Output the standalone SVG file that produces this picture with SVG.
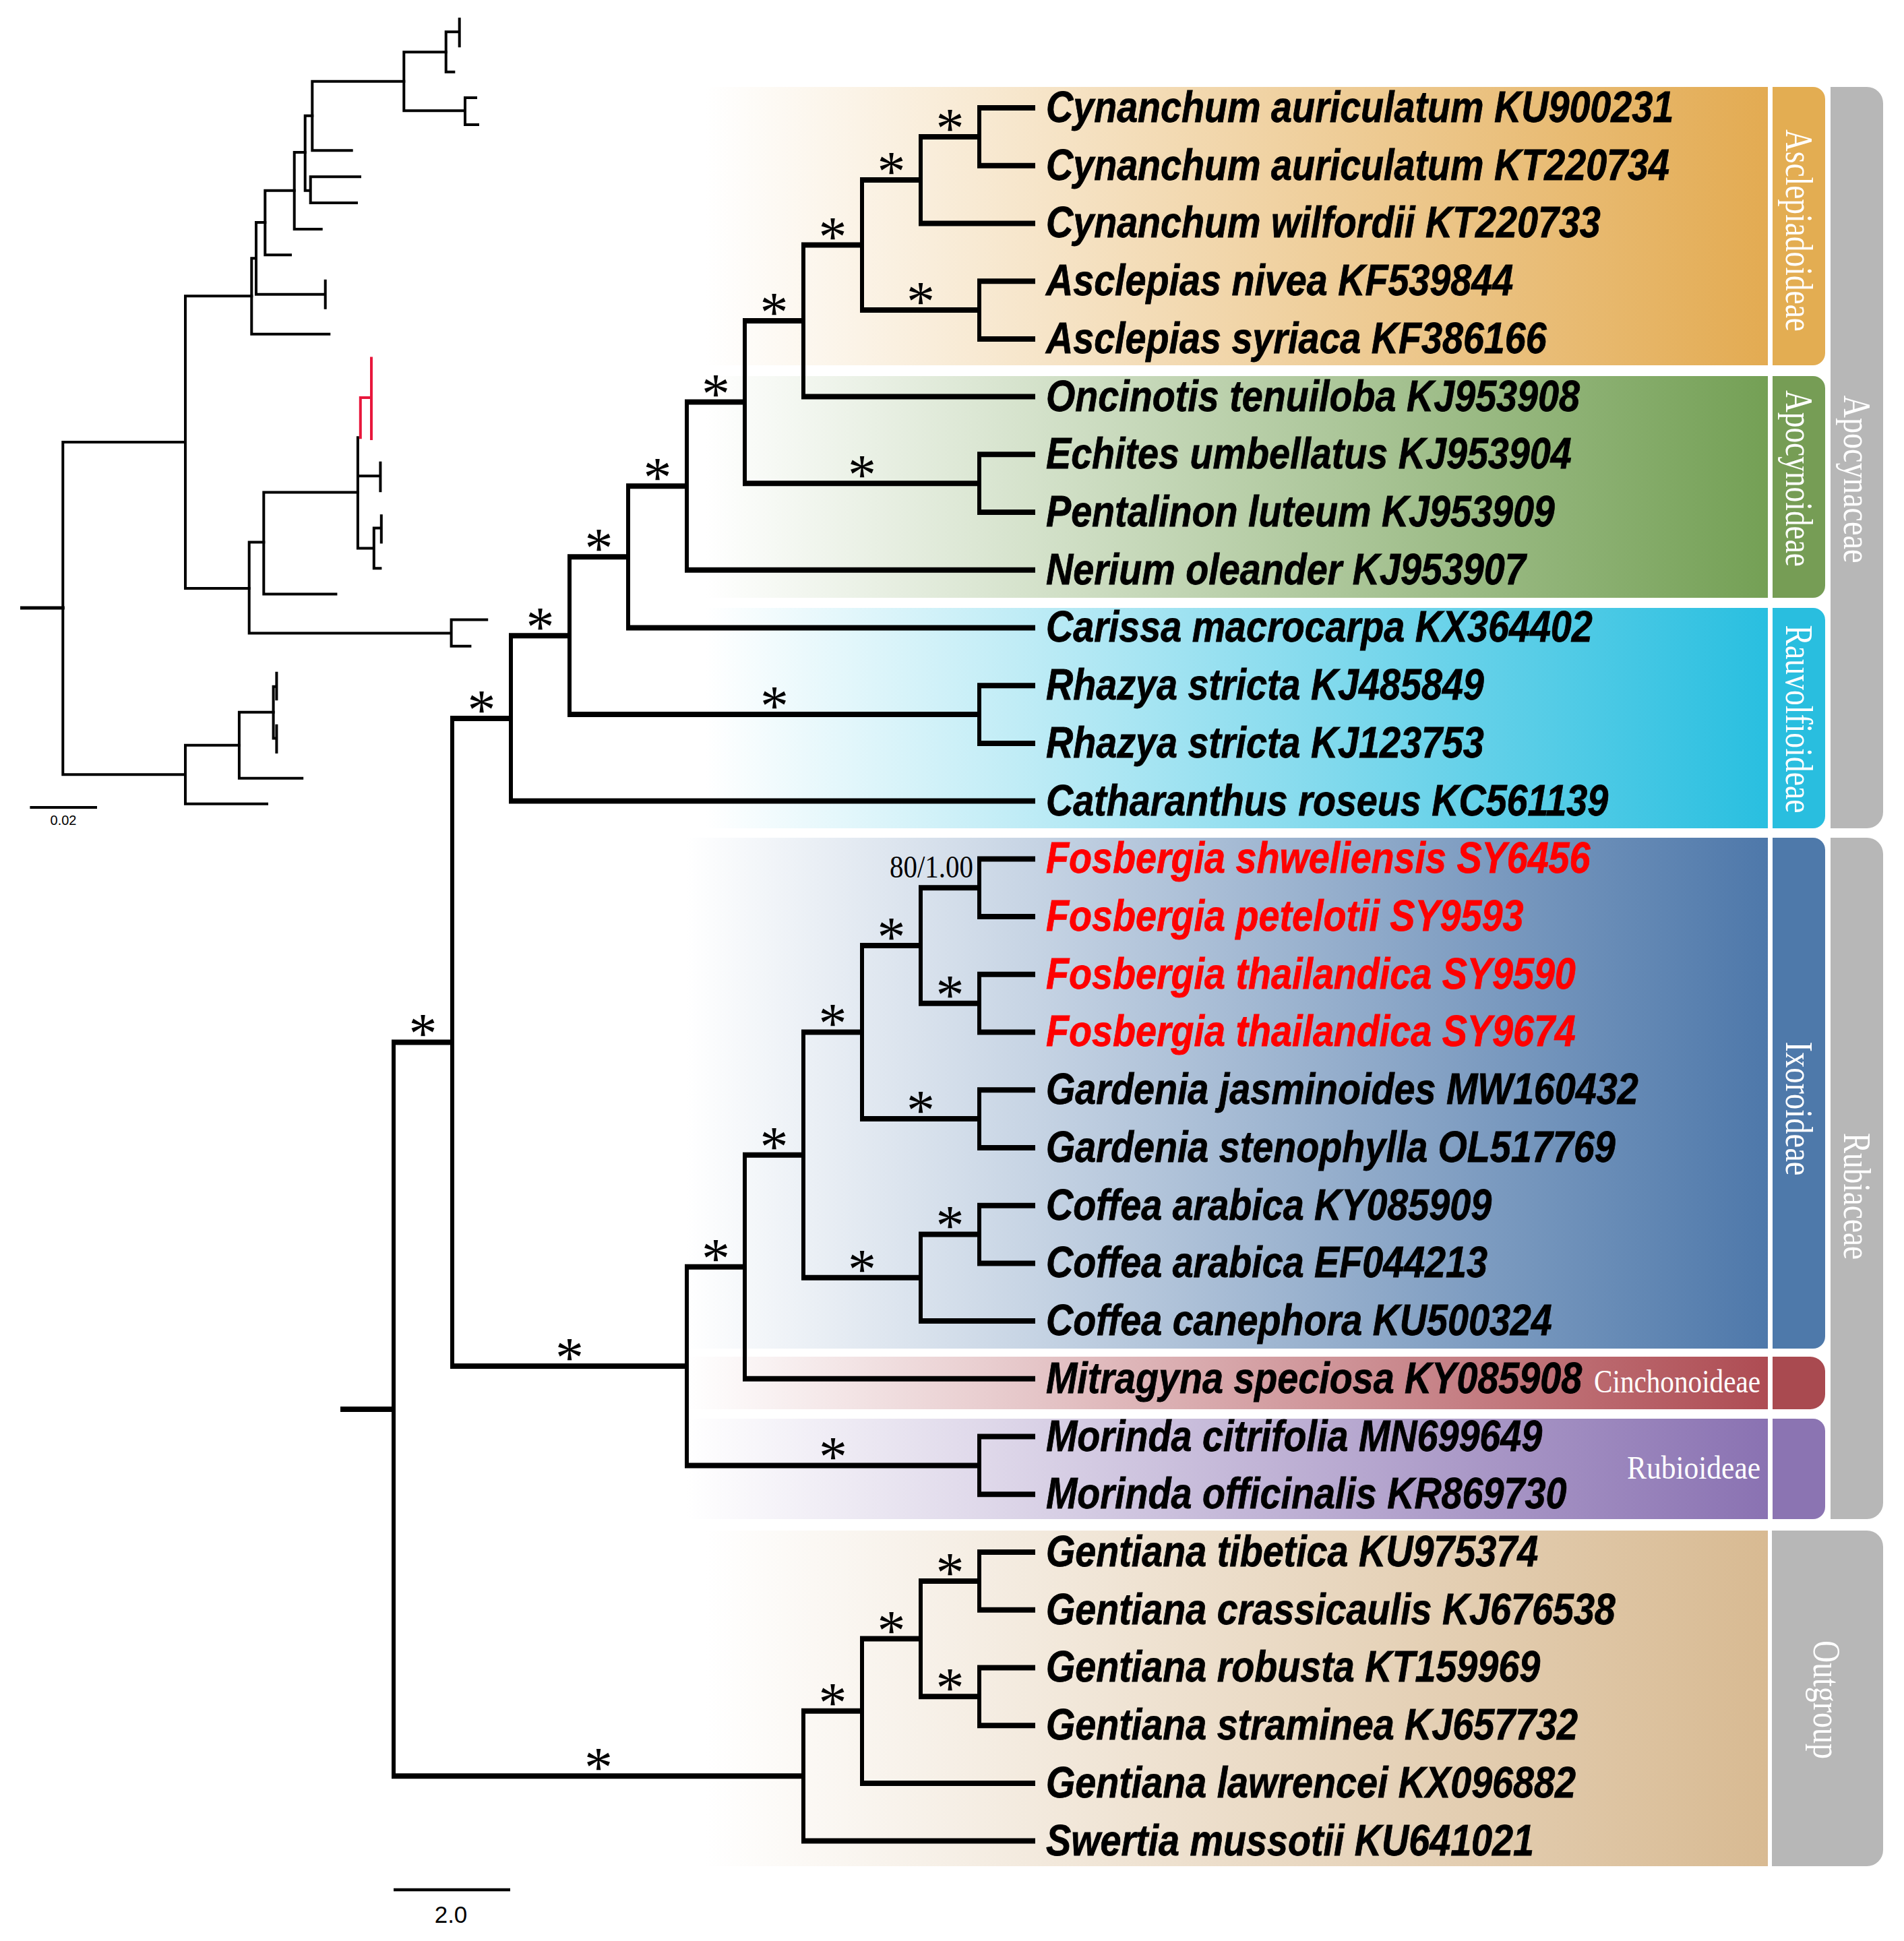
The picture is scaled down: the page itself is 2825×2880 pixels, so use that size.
<svg xmlns="http://www.w3.org/2000/svg" width="2825" height="2880" viewBox="0 0 2825 2880">
<style>
.hz{fill:none;stroke:#000;stroke-width:8;stroke-linecap:butt}
.vt{fill:none;stroke:#000;stroke-width:6;stroke-linecap:square}
.in{fill:none;stroke:#000;stroke-width:4;stroke-linecap:square}
.inr{fill:none;stroke:#E8173C;stroke-width:4;stroke-linecap:square}
.tx{font-family:"Liberation Sans",Arial,sans-serif;font-weight:bold;font-style:italic;font-size:64px;fill:#000;stroke:#000;stroke-width:0.8}
.red{fill:#FF0000;stroke:#FF0000}
.ast{font-family:"Liberation Serif","Times New Roman",serif;font-size:84px;fill:#000;text-anchor:middle}
.lab{font-family:"Liberation Serif","Times New Roman",serif;font-size:58px;fill:#fff;text-anchor:middle}
.hlab{font-family:"Liberation Serif","Times New Roman",serif;font-size:48px;fill:#fff;text-anchor:end}
.sc{font-family:"Liberation Sans",Arial,sans-serif;fill:#000;text-anchor:middle}
</style>
<defs>
<linearGradient id="gAsc" x1="0" x2="1" y1="0" y2="0"><stop offset="0" stop-color="#fff"/><stop offset="1" stop-color="#E3AB52"/></linearGradient>
<linearGradient id="gApo" x1="0" x2="1" y1="0" y2="0"><stop offset="0" stop-color="#fff"/><stop offset="1" stop-color="#74A055"/></linearGradient>
<linearGradient id="gRau" x1="0" x2="1" y1="0" y2="0"><stop offset="0" stop-color="#fff"/><stop offset="1" stop-color="#29BFE0"/></linearGradient>
<linearGradient id="gIxo" x1="0" x2="1" y1="0" y2="0"><stop offset="0" stop-color="#fff"/><stop offset="1" stop-color="#4E78AA"/></linearGradient>
<linearGradient id="gCin" x1="0" x2="1" y1="0" y2="0"><stop offset="0" stop-color="#fff"/><stop offset="1" stop-color="#AE4C53"/></linearGradient>
<linearGradient id="gRub" x1="0" x2="1" y1="0" y2="0"><stop offset="0" stop-color="#fff"/><stop offset="1" stop-color="#8A72B2"/></linearGradient>
<linearGradient id="gOut" x1="0" x2="1" y1="0" y2="0"><stop offset="0" stop-color="#fff"/><stop offset="1" stop-color="#D8BA92"/></linearGradient>
</defs>
<rect width="2825" height="2880" fill="#fff"/>

<g id="bands">
<rect x="1047" y="129" width="1576" height="413" fill="url(#gAsc)"/>
<rect x="1047" y="558" width="1576" height="329" fill="url(#gApo)"/>
<rect x="1047" y="902" width="1576" height="327" fill="url(#gRau)"/>
<rect x="1019" y="1243" width="1604" height="758" fill="url(#gIxo)"/>
<rect x="1019" y="2013" width="1604" height="78" fill="url(#gCin)"/>
<rect x="1019" y="2105" width="1604" height="149" fill="url(#gRub)"/>
<rect x="1047" y="2271" width="1576" height="498" fill="url(#gOut)"/>
</g>

<g id="label-boxes">
<path d="M2630 129H2690A18 18 0 0 1 2708 147V524A18 18 0 0 1 2690 542H2630Z" fill="#E3AD52"/>
<path d="M2630 558H2690A18 18 0 0 1 2708 576V869A18 18 0 0 1 2690 887H2630Z" fill="#769D55"/>
<path d="M2630 902H2690A18 18 0 0 1 2708 920V1211A18 18 0 0 1 2690 1229H2630Z" fill="#29BEDF"/>
<path d="M2630 1243H2690A18 18 0 0 1 2708 1261V1983A18 18 0 0 1 2690 2001H2630Z" fill="#4E79AA"/>
<path d="M2630 2013H2686A22 22 0 0 1 2708 2035V2069A22 22 0 0 1 2686 2091H2630Z" fill="#A94A50"/>
<path d="M2630 2105H2690A18 18 0 0 1 2708 2123V2236A18 18 0 0 1 2690 2254H2630Z" fill="#8B74B2"/>
<path d="M2716 129H2770A24 24 0 0 1 2794 153V1205A24 24 0 0 1 2770 1229H2716Z" fill="#B7B7B7"/>
<path d="M2716 1243H2770A24 24 0 0 1 2794 1267V2230A24 24 0 0 1 2770 2254H2716Z" fill="#B7B7B7"/>
<path d="M2629 2271H2770A24 24 0 0 1 2794 2295V2745A24 24 0 0 1 2770 2769H2629Z" fill="#B7B7B7"/>
<text class="lab" transform="translate(2650 342) rotate(90)" textLength="300" lengthAdjust="spacingAndGlyphs">Asclepiadoideae</text>
<text class="lab" transform="translate(2650 710) rotate(90)" textLength="262" lengthAdjust="spacingAndGlyphs">Apocynoideae</text>
<text class="lab" transform="translate(2650 1067) rotate(90)" textLength="279" lengthAdjust="spacingAndGlyphs">Rauvolfioideae</text>
<text class="lab" transform="translate(2650 1645) rotate(90)" textLength="199" lengthAdjust="spacingAndGlyphs">Ixoroideae</text>
<text class="lab" transform="translate(2736 711) rotate(90)" textLength="249" lengthAdjust="spacingAndGlyphs">Apocynaceae</text>
<text class="lab" transform="translate(2736 1775) rotate(90)" textLength="188" lengthAdjust="spacingAndGlyphs">Rubiaceae</text>
<text class="lab" transform="translate(2691 2522) rotate(90)" textLength="176" lengthAdjust="spacingAndGlyphs">Outgroup</text>
<text class="hlab" x="2612" y="2066" textLength="247" lengthAdjust="spacingAndGlyphs">Cinchonoideae</text>
<text class="hlab" x="2612" y="2194" textLength="198" lengthAdjust="spacingAndGlyphs">Rubioideae</text>
</g>

<g id="inset-tree">
<path class="in" d="M32.5 902H93.3" style="stroke-width:5"/>
<path class="in" d="M93.3 656V1149.3M93.3 656H275M93.3 1149.3H275"/>
<path class="in" d="M275 439.3V873.1M275 439.3H373.3M275 873.1H369.7"/>
<path class="in" d="M373.3 383.3V495.7H488.3M373.3 383.3H380"/>
<path class="in" d="M380 330V436.7H482.7M482.7 416.7V456.7M380 330H393.3"/>
<path class="in" d="M393.3 282.7V378.3H431M393.3 282.7H436.7"/>
<path class="in" d="M436.7 226V340H476.7M436.7 226H452.7"/>
<path class="in" d="M452.7 171.7V282.7H460.7M460.7 262.3V301M460.7 262.3H534M460.7 301H529M452.7 171.7H463.3"/>
<path class="in" d="M463.3 120.7V223.3H521.7M463.3 120.7H599.3"/>
<path class="in" d="M599.3 77.3V164.3H690M690 145V185M690 145H706M690 185H709M599.3 77.3H661.7"/>
<path class="in" d="M661.7 47.3V106.7H673.3M661.7 47.3H681.7M681.7 28.3V68.3"/>
<path class="in" d="M369.7 804.5V939.5H669.6M369.7 804.5H391.3M669.6 919.6V958.7M669.6 919.6H722.2M669.6 958.7H697.4"/>
<path class="in" d="M391.3 730.5V881.4H498.4M391.3 730.5H530.9"/>
<path class="in" d="M530.9 649.3V813.4H554.8M530.9 706.3H564.4M564.4 686.7V728.2M554.8 783.6V843.3H564.4M554.8 783.6H565.8M565.8 765.3V804.5"/>
<path class="inr" d="M534.8 649.3V590H551M551 531.5V651"/>
<path class="in" d="M275 1105.7V1192.8H396M275 1105.7H354.9"/>
<path class="in" d="M354.9 1056.8V1154.7H448.2M354.9 1056.8H405.6"/>
<path class="in" d="M405.6 1018.7V1095.4M405.6 1018.7H410.4M405.6 1095.4H410.4M410.4 998.8V1037.3M410.4 1076.7V1116.1"/>
<path class="in" d="M46.4 1198H142"/>
<text class="sc" x="94" y="1224" font-size="20">0.02</text>
</g>

<g id="connectors">
<path class="hz" d="M505 2091H587 M581 1546.5H674 M581 2635.2H1195 M668 1065.9H761 M668 2027.1H1022 M755 943.2H848 M755 1188.6H1536 M842 826.3H935 M842 1060.1H1456 M929 721.2H1022 M929 931.5H1536 M1016 596.6H1108 M1016 845.8H1536 M1102 476.1H1195 M1102 717.2H1456 M1189 363.6H1282 M1189 588.6H1536 M1276 267.1H1369 M1276 460H1456 M1363 202.9H1456 M1363 331.4H1536"/>
<path class="hz" d="M1016 1879.7H1108 M1016 2174.4H1456 M1102 1713.7H1195 M1102 2045.8H1536 M1189 1531.5H1282 M1189 1895.8H1369 M1363 1831.5H1456 M1363 1960.1H1536 M1276 1402.9H1369 M1276 1660.1H1456 M1363 1317.2H1456 M1363 1488.7H1456"/>
<path class="hz" d="M1189 2538.8H1282 M1189 2731.6H1536 M1276 2431.6H1369 M1276 2645.9H1536 M1363 2345.9H1456 M1363 2517.3H1456"/>
<path class="hz" d="M1450 160H1536 M1450 245.7H1536 M1450 417.2H1536 M1450 502.9H1536 M1450 674.3H1536 M1450 760H1536 M1450 1017.2H1536 M1450 1102.9H1536 M1450 1274.4H1536 M1450 1360.1H1536 M1450 1445.8H1536 M1450 1531.5H1536 M1450 1617.2H1536 M1450 1703H1536 M1450 1788.7H1536 M1450 1874.4H1536 M1450 2131.6H1536 M1450 2217.3H1536 M1450 2303H1536 M1450 2388.7H1536 M1450 2474.4H1536 M1450 2560.2H1536"/>
<path class="vt" d="M584 1546.5V2635.2 M671 1065.9V2027.1 M758 943.2V1188.6 M845 826.3V1060.1 M932 721.2V931.5 M1019 596.6V845.8 M1105 476.1V717.2 M1192 363.6V588.6 M1279 267.1V460 M1366 202.9V331.4 M1453 160V245.7 M1453 417.2V502.9 M1453 674.3V760 M1453 1017.2V1102.9"/>
<path class="vt" d="M1019 1879.7V2174.4 M1105 1713.7V2045.8 M1192 1531.5V1895.8 M1366 1831.5V1960.1 M1279 1402.9V1660.1 M1366 1317.2V1488.7 M1453 1274.4V1360.1 M1453 1445.8V1531.5 M1453 1617.2V1703 M1453 1788.7V1874.4 M1453 2131.6V2217.3"/>
<path class="vt" d="M1192 2538.8V2731.6 M1279 2431.6V2645.9 M1366 2345.9V2517.3 M1453 2303V2388.7 M1453 2474.4V2560.2"/>
<path class="hz" d="M584 2804H757" style="stroke-width:4.5"/>
<text class="sc" x="669" y="2853" font-size="35">2.0</text>
</g>

<g id="support">
<text class="ast" x="627.5" y="1562">*</text>
<text class="ast" x="888" y="2651">*</text>
<text class="ast" x="714.5" y="1082">*</text>
<text class="ast" x="845" y="2043">*</text>
<text class="ast" x="801.5" y="959">*</text>
<text class="ast" x="888.5" y="842">*</text>
<text class="ast" x="1149" y="1076">*</text>
<text class="ast" x="975.5" y="737">*</text>
<text class="ast" x="1062" y="613">*</text>
<text class="ast" x="1148.5" y="492">*</text>
<text class="ast" x="1279" y="733">*</text>
<text class="ast" x="1235.5" y="380">*</text>
<text class="ast" x="1322.5" y="283">*</text>
<text class="ast" x="1366" y="476">*</text>
<text class="ast" x="1409.5" y="219">*</text>
<text class="ast" x="1062" y="1896">*</text>
<text class="ast" x="1236" y="2190">*</text>
<text class="ast" x="1148.5" y="1730">*</text>
<text class="ast" x="1235.5" y="1547">*</text>
<text class="ast" x="1279" y="1912">*</text>
<text class="ast" x="1409.5" y="1847">*</text>
<text class="ast" x="1322.5" y="1419">*</text>
<text class="ast" x="1366" y="1676">*</text>
<text class="ast" x="1409.5" y="1505">*</text>
<text class="ast" x="1235.5" y="2555">*</text>
<text class="ast" x="1322.5" y="2448">*</text>
<text class="ast" x="1409.5" y="2362">*</text>
<text class="ast" x="1409.5" y="2533">*</text>
<text x="1444" y="1302" font-family="Liberation Serif, Times New Roman, serif" font-size="46" text-anchor="end" textLength="124" lengthAdjust="spacingAndGlyphs">80/1.00</text>
</g>

<g id="taxa" transform="translate(1552 0) scale(0.87 1)">
<text class="tx" x="0" y="181">Cynanchum auriculatum KU900231</text>
<text class="tx" x="0" y="266.7">Cynanchum auriculatum KT220734</text>
<text class="tx" x="0" y="352.4">Cynanchum wilfordii KT220733</text>
<text class="tx" x="0" y="438.2">Asclepias nivea KF539844</text>
<text class="tx" x="0" y="523.9">Asclepias syriaca KF386166</text>
<text class="tx" x="0" y="609.6">Oncinotis tenuiloba KJ953908</text>
<text class="tx" x="0" y="695.3">Echites umbellatus KJ953904</text>
<text class="tx" x="0" y="781">Pentalinon luteum KJ953909</text>
<text class="tx" x="0" y="866.8">Nerium oleander KJ953907</text>
<text class="tx" x="0" y="952.5">Carissa macrocarpa KX364402</text>
<text class="tx" x="0" y="1038.2">Rhazya stricta KJ485849</text>
<text class="tx" x="0" y="1123.9">Rhazya stricta KJ123753</text>
<text class="tx" x="0" y="1209.6">Catharanthus roseus KC561139</text>
<text class="tx red" x="0" y="1295.4">Fosbergia shweliensis SY6456</text>
<text class="tx red" x="0" y="1381.1">Fosbergia petelotii SY9593</text>
<text class="tx red" x="0" y="1466.8">Fosbergia thailandica SY9590</text>
<text class="tx red" x="0" y="1552.5">Fosbergia thailandica SY9674</text>
<text class="tx" x="0" y="1638.2">Gardenia jasminoides MW160432</text>
<text class="tx" x="0" y="1724">Gardenia stenophylla OL517769</text>
<text class="tx" x="0" y="1809.7">Coffea arabica KY085909</text>
<text class="tx" x="0" y="1895.4">Coffea arabica EF044213</text>
<text class="tx" x="0" y="1981.1">Coffea canephora KU500324</text>
<text class="tx" x="0" y="2066.8">Mitragyna speciosa KY085908</text>
<text class="tx" x="0" y="2152.6">Morinda citrifolia MN699649</text>
<text class="tx" x="0" y="2238.3">Morinda officinalis KR869730</text>
<text class="tx" x="0" y="2324">Gentiana tibetica KU975374</text>
<text class="tx" x="0" y="2409.7">Gentiana crassicaulis KJ676538</text>
<text class="tx" x="0" y="2495.4">Gentiana robusta KT159969</text>
<text class="tx" x="0" y="2581.2">Gentiana straminea KJ657732</text>
<text class="tx" x="0" y="2666.9">Gentiana lawrencei KX096882</text>
<text class="tx" x="0" y="2752.6">Swertia mussotii KU641021</text>
</g>
</svg>
